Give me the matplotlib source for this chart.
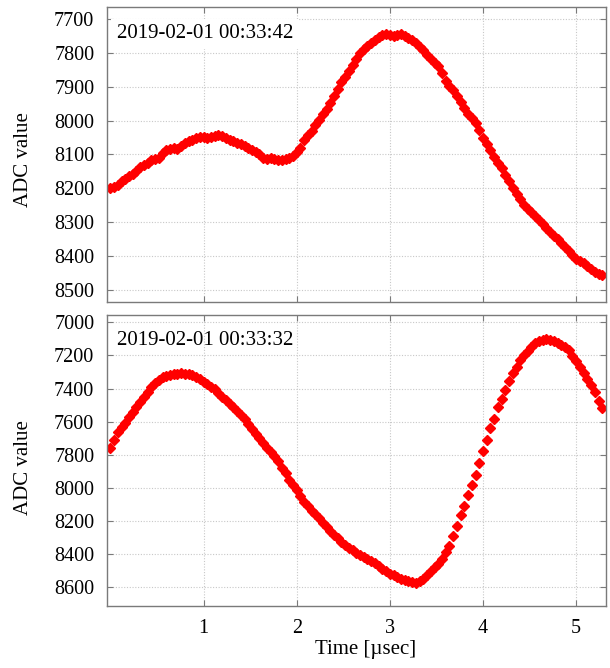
import numpy as np
import matplotlib
matplotlib.use("Agg")
import matplotlib.pyplot as plt

plt.rcParams['font.family'] = ['Liberation Serif', 'DejaVu Serif']

# Time axis (µsec), sample step
time_us = [round(0.04 * k, 2) for k in range(133)]

# Upper panel: 2019-02-01 00:33:42
adc_top = [
    8200, 8195, 8189, 8180, 8172, 8165, 8158, 8149, 8137, 8131,
    8125, 8118, 8113, 8110, 8096, 8086, 8083, 8082, 8083, 8075,
    8066, 8061, 8057, 8052, 8050, 8050, 8051, 8050, 8047, 8043,
    8046, 8051, 8056, 8060, 8065, 8070, 8075, 8081, 8087, 8093,
    8099, 8110, 8115, 8112, 8113, 8117, 8117, 8113, 8110, 8105,
    8092, 8080, 8058, 8044, 8030, 8014, 7998, 7982, 7966, 7948,
    7927, 7906, 7886, 7871, 7853, 7836, 7817, 7800, 7790, 7780,
    7770, 7761, 7752, 7748, 7743, 7746, 7751, 7747, 7745, 7750,
    7756, 7763, 7772, 7782, 7793, 7805, 7817, 7830, 7838, 7860,
    7883, 7897, 7910, 7927, 7944, 7964, 7981, 7993, 8008, 8027,
    8053, 8068, 8088, 8107, 8125, 8141, 8161, 8180, 8200, 8216,
    8233, 8248, 8260, 8271, 8283, 8295, 8306, 8318, 8329, 8340,
    8351, 8362, 8374, 8385, 8398, 8410, 8414, 8420, 8430, 8439,
    8447, 8453, 8457,
]

# Lower panel: 2019-02-01 00:33:32
adc_bottom = [
    7760, 7712, 7665, 7632, 7606, 7575, 7543, 7511, 7484, 7454,
    7422, 7390, 7368, 7349, 7333, 7325, 7318, 7313, 7310, 7309,
    7310, 7313, 7321, 7332, 7345, 7358, 7373, 7388, 7405, 7429,
    7450, 7471, 7492, 7510, 7533, 7558, 7587, 7616, 7645, 7673,
    7700, 7727, 7758, 7784, 7806, 7838, 7880, 7912, 7950, 7984,
    8015, 8049, 8083, 8112, 8138, 8160, 8185, 8210, 8237, 8263,
    8283, 8302, 8326, 8346, 8364, 8378, 8392, 8407, 8420, 8430,
    8442, 8457, 8473, 8489, 8504, 8519, 8527, 8536, 8549, 8558,
    8563, 8568, 8575, 8566, 8549, 8526, 8503, 8480, 8458, 8428,
    8390, 8352, 8290, 8230, 8165, 8110, 8045, 7980, 7924, 7853,
    7779, 7712, 7641, 7585, 7511, 7462, 7408, 7356, 7307, 7268,
    7230, 7200, 7175, 7148, 7126, 7112, 7106, 7103, 7106, 7114,
    7125, 7137, 7150, 7165, 7203, 7236, 7269, 7306, 7341, 7380,
    7420, 7476, 7520,
]

top_title = "2019-02-01 00:33:42"
bottom_title = "2019-02-01 00:33:32"
top_yticks = [7700, 7800, 7900, 8000, 8100, 8200, 8300, 8400, 8500]
bottom_yticks = [7000, 7200, 7400, 7600, 7800, 8000, 8200, 8400, 8600]
xticks = [1, 2, 3, 4, 5]

fig = plt.figure(figsize=(6.1, 6.68), dpi=100)
ax1 = fig.add_axes([0.175, 0.5484, 0.8184, 0.4404])
ax2 = fig.add_axes([0.175, 0.0921, 0.8184, 0.4363])

spine_col = '#7a7a7a'
for ax in (ax1, ax2):
    ax.set_xlim(-0.039, 5.32)
    ax.set_xticks(xticks)
    ax.grid(True, linestyle=(0, (1, 1.5)), color='#c8c8c8', linewidth=0.8)
    ax.set_axisbelow(True)
    ax.tick_params(direction='in', length=4, top=True, right=True,
                   color=spine_col, labelsize=14.5, pad=9)
    for s in ax.spines.values():
        s.set_color(spine_col)
        s.set_linewidth(1.0)

ax1.plot(time_us, adc_top, linestyle='none', marker='D', ms=5.3,
         color='#ff0000', mec='#ff0000')
ax1.set_yticks(top_yticks)
ax1.set_ylim(8535, 7666)
ax1.tick_params(labelbottom=False)
ax1.text(0.02, 0.91, top_title, transform=ax1.transAxes, fontsize=15,
         va='center', ha='left',
         bbox=dict(facecolor='white', edgecolor='none', pad=4))

ax2.plot(time_us, adc_bottom, linestyle='none', marker='D', ms=5.3,
         color='#ff0000', mec='#ff0000')
ax2.set_yticks(bottom_yticks)
ax2.set_ylim(8717, 6956)
ax2.text(0.02, 0.911, bottom_title, transform=ax2.transAxes, fontsize=15,
         va='center', ha='left')

fig.text(0.039, 0.7605, 'ADC value', rotation=90, fontsize=15,
         ha='center', va='center')
fig.text(0.039, 0.2994, 'ADC value', rotation=90, fontsize=15,
         ha='center', va='center')
fig.text(0.6, 0.027, 'Time [\u00b5sec]', fontsize=15, ha='center', va='center')

fig.savefig('out.png', dpi=100)
